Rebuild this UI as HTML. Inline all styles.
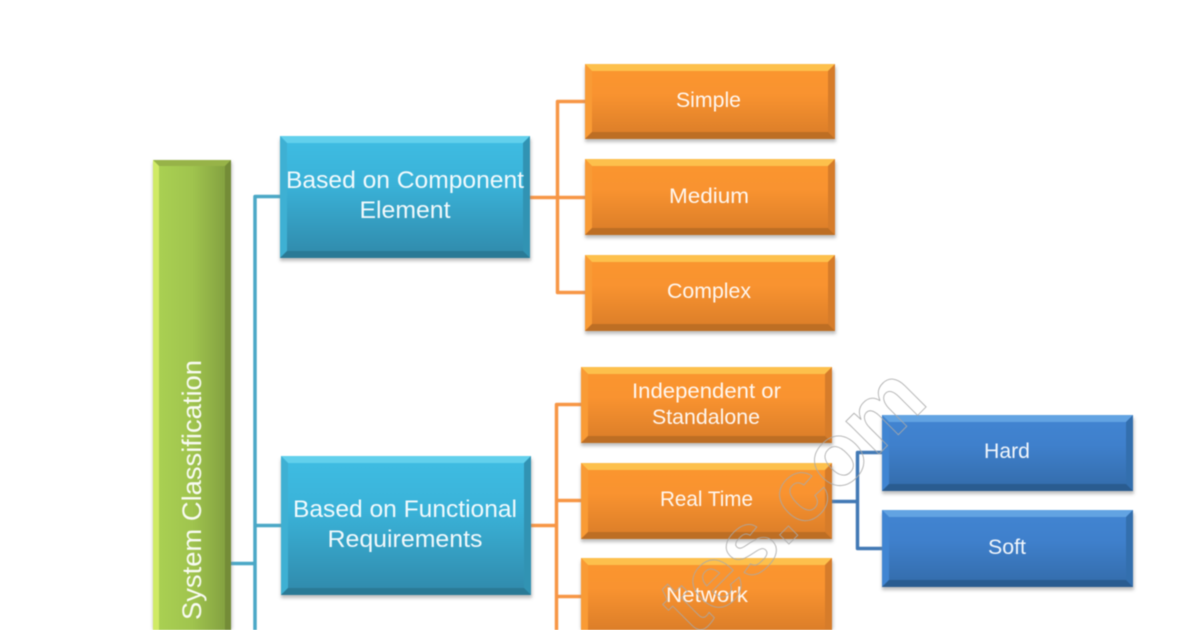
<!DOCTYPE html>
<html><head><meta charset="utf-8">
<style>
html,body{margin:0;padding:0;background:#fff;width:1200px;height:630px;overflow:hidden}
svg{display:block;filter:blur(.45px)}
text{font-family:"Liberation Sans",sans-serif;fill:#fff;fill-opacity:.93;text-anchor:middle}
.a{font-size:24px}.b{font-size:21px}
</style></head><body>
<svg width="1200" height="630" viewBox="0 0 1200 630" xmlns="http://www.w3.org/2000/svg">
<defs>
<linearGradient id="gT" x1="0" y1="0" x2="0" y2="1"><stop offset="0" stop-color="#3fbde3"/><stop offset=".4" stop-color="#3ab2d8"/><stop offset="1" stop-color="#3089aa"/></linearGradient>
<linearGradient id="gO" x1="0" y1="0" x2="0" y2="1"><stop offset="0" stop-color="#fb962f"/><stop offset=".4" stop-color="#f99330"/><stop offset="1" stop-color="#d97c28"/></linearGradient>
<linearGradient id="gO6" gradientUnits="userSpaceOnUse" x1="0" y1="558" x2="0" y2="634"><stop offset="0" stop-color="#fb962f"/><stop offset=".4" stop-color="#f99330"/><stop offset="1" stop-color="#d97c28"/></linearGradient>
<linearGradient id="gB" x1="0" y1="0" x2="0" y2="1"><stop offset="0" stop-color="#4285d2"/><stop offset=".4" stop-color="#3f80cc"/><stop offset="1" stop-color="#336ba9"/></linearGradient>
<linearGradient id="gG" x1="0" y1="0" x2="1" y2="0"><stop offset="0" stop-color="#abd253"/><stop offset=".5" stop-color="#a0c44e"/><stop offset="1" stop-color="#7f9c3e"/></linearGradient>
<filter id="s" x="-5%" y="-10%" width="110%" height="125%"><feGaussianBlur stdDeviation="1.6"/></filter>
</defs>

<!-- connectors -->
<g fill="none" stroke-width="3.5" stroke-linejoin="round">
<path stroke="#4ba8c6" d="M231 563.500H255M255 630V196.500H280M255 525.500H281"/>
<path stroke="#f79646" d="M530 197.500H585M585 101.500H557.500V292.500H585"/>
<path stroke="#f79646" d="M531 525.500H556M581 404.500H556.500V630M556 500.500H581M556 596.500H581"/>
<path stroke="#4279b5" d="M832 501.500H857M882 452.500H857.500V548.500H882"/>
</g>

<!-- shadows -->
<g fill="#888" fill-opacity=".55" filter="url(#s)">
<rect x="153" y="162" width="79" height="468"/>
<rect x="280" y="139" width="251" height="122"/>
<rect x="281" y="459" width="251" height="139"/>
<rect x="585" y="67" width="251" height="75"/>
<rect x="585" y="162" width="251" height="76"/>
<rect x="585" y="258" width="251" height="76"/>
<rect x="581" y="370" width="252" height="76"/>
<rect x="581" y="466" width="252" height="76"/>
<rect x="581" y="561" width="252" height="69"/>
<rect x="882" y="418" width="252" height="76"/>
<rect x="882" y="513" width="252" height="77"/>
</g>

<!-- green -->
<rect x="153" y="160" width="78" height="470" fill="url(#gG)"/>
<polygon points="153,160 231,160 225,166 159,166" fill="#97b348"/>
<polygon points="153,160 159,166 159,630 153,630" fill="#d0ea66"/>
<polygon points="231,160 225,166 225,630 231,630" fill="#748c37"/>

<!-- teal -->
<rect x="280" y="136" width="250" height="122" fill="url(#gT)"/>
<polygon points="280,136 530,136 523,143 287,143" fill="#62d0ec"/>
<polygon points="280,136 287,143 287,251 280,258" fill="#3eb0d3"/>
<polygon points="530,136 523,143 523,251 530,258" fill="#3193b3"/>
<polygon points="280,258 287,251 523,251 530,258" fill="#2a7a96"/>

<rect x="281" y="456" width="250" height="139" fill="url(#gT)"/>
<polygon points="281,456 531,456 524,463 288,463" fill="#62d0ec"/>
<polygon points="281,456 288,463 288,588 281,595" fill="#3eb0d3"/>
<polygon points="531,456 524,463 524,588 531,595" fill="#3193b3"/>
<polygon points="281,595 288,588 524,588 531,595" fill="#2a7a96"/>

<!-- orange 1 -->
<rect x="585" y="64" width="250" height="75" fill="url(#gO)"/>
<polygon points="585,64 835,64 828,71 592,71" fill="#fdc04c"/>
<polygon points="585,64 592,71 592,132 585,139" fill="#f99b35"/>
<polygon points="835,64 828,71 828,132 835,139" fill="#d67c2a"/>
<polygon points="585,139 592,132 828,132 835,139" fill="#bd6e24"/>

<rect x="585" y="159" width="250" height="76" fill="url(#gO)"/>
<polygon points="585,159 835,159 828,166 592,166" fill="#fdc04c"/>
<polygon points="585,159 592,166 592,228 585,235" fill="#f99b35"/>
<polygon points="835,159 828,166 828,228 835,235" fill="#d67c2a"/>
<polygon points="585,235 592,228 828,228 835,235" fill="#bd6e24"/>

<rect x="585" y="255" width="250" height="76" fill="url(#gO)"/>
<polygon points="585,255 835,255 828,262 592,262" fill="#fdc04c"/>
<polygon points="585,255 592,262 592,324 585,331" fill="#f99b35"/>
<polygon points="835,255 828,262 828,324 835,331" fill="#d67c2a"/>
<polygon points="585,331 592,324 828,324 835,331" fill="#bd6e24"/>

<!-- orange 2 -->
<rect x="581" y="367" width="251" height="76" fill="url(#gO)"/>
<polygon points="581,367 832,367 825,374 588,374" fill="#fdc04c"/>
<polygon points="581,367 588,374 588,436 581,443" fill="#f99b35"/>
<polygon points="832,367 825,374 825,436 832,443" fill="#d67c2a"/>
<polygon points="581,443 588,436 825,436 832,443" fill="#bd6e24"/>

<rect x="581" y="463" width="251" height="76" fill="url(#gO)"/>
<polygon points="581,463 832,463 825,470 588,470" fill="#fdc04c"/>
<polygon points="581,463 588,470 588,532 581,539" fill="#f99b35"/>
<polygon points="832,463 825,470 825,532 832,539" fill="#d67c2a"/>
<polygon points="581,539 588,532 825,532 832,539" fill="#bd6e24"/>

<rect x="581" y="558" width="251" height="72" fill="url(#gO6)"/>
<polygon points="581,558 832,558 825,565 588,565" fill="#fdc04c"/>
<polygon points="581,558 588,565 588,630 581,630" fill="#f99b35"/>
<polygon points="832,558 825,565 825,630 832,630" fill="#d67c2a"/>

<!-- blue -->
<rect x="882" y="415" width="251" height="76" fill="url(#gB)"/>
<polygon points="882,415 1133,415 1126,422 889,422" fill="#62a3e2"/>
<polygon points="882,415 889,422 889,484 882,491" fill="#4085d2"/>
<polygon points="1133,415 1126,422 1126,484 1133,491" fill="#336fae"/>
<polygon points="882,491 889,484 1126,484 1133,491" fill="#2a5c90"/>

<rect x="882" y="510" width="251" height="77" fill="url(#gB)"/>
<polygon points="882,510 1133,510 1126,517 889,517" fill="#62a3e2"/>
<polygon points="882,510 889,517 889,580 882,587" fill="#4085d2"/>
<polygon points="1133,510 1126,517 1126,580 1133,587" fill="#336fae"/>
<polygon points="882,587 889,580 1126,580 1133,587" fill="#2a5c90"/>

<!-- labels -->
<text class="a" transform="translate(201 490) rotate(-90)" textLength="260" lengthAdjust="spacingAndGlyphs" style="font-size:27px">System Classification</text>
<text class="a" x="405" y="188" textLength="238" lengthAdjust="spacingAndGlyphs">Based on Component</text>
<text class="a" x="405" y="218" textLength="91" lengthAdjust="spacingAndGlyphs">Element</text>
<text class="a" x="405" y="517" textLength="224" lengthAdjust="spacingAndGlyphs">Based on Functional</text>
<text class="a" x="405" y="547" textLength="155" lengthAdjust="spacingAndGlyphs">Requirements</text>
<text class="b" x="708.500" y="107" textLength="65" lengthAdjust="spacingAndGlyphs">Simple</text>
<text class="b" x="709" y="203" textLength="80" lengthAdjust="spacingAndGlyphs">Medium</text>
<text class="b" x="709" y="298" textLength="84" lengthAdjust="spacingAndGlyphs">Complex</text>
<text class="b" x="706.500" y="398" textLength="149" lengthAdjust="spacingAndGlyphs">Independent or</text>
<text class="b" x="706" y="424" textLength="108" lengthAdjust="spacingAndGlyphs">Standalone</text>
<text class="b" x="706.500" y="506" textLength="93" lengthAdjust="spacingAndGlyphs">Real Time</text>
<text class="b" x="707" y="602" textLength="82" lengthAdjust="spacingAndGlyphs">Network</text>
<text class="b" x="1007" y="458" textLength="46" lengthAdjust="spacingAndGlyphs">Hard</text>
<text class="b" x="1007" y="554" textLength="38" lengthAdjust="spacingAndGlyphs">Soft</text>

<!-- watermark -->
<text transform="translate(930 403) rotate(-45)" style="text-anchor:end;font-size:88px;font-weight:bold;fill:none;stroke:#a8a8a8;stroke-width:.9;stroke-opacity:.9">tes.com</text>
</svg>
</body></html>
